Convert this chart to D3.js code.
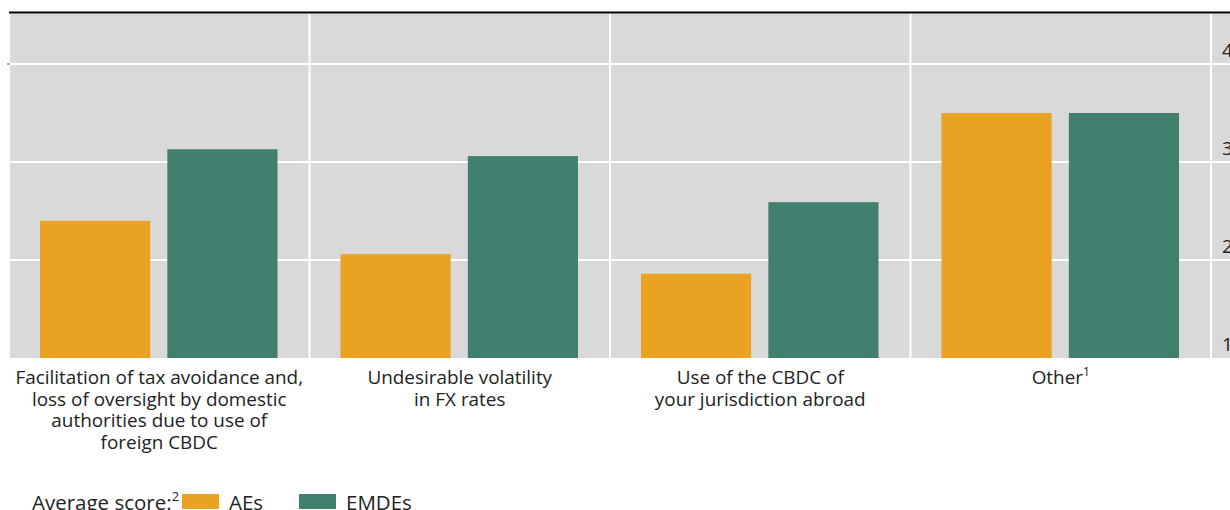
<!DOCTYPE html>
<html>
<head>
<meta charset="utf-8">
<script src="https://cdn.jsdelivr.net/npm/d3@7"></script>
<style>
  body { margin: 0; background: #fff; }
  svg { display: block; font-family: "Open Sans", "Noto Sans", sans-serif; }
</style>
</head>
<body>
<div id="chartDiv"></div>
<script>
// categories, each as lines of its label
var categories = ["tax", "fx", "abroad", "other"];
var categoryLines = [
	["Facilitation of tax avoidance and,", "loss of oversight by domestic", "authorities due to use of", "foreign CBDC"],
	["Undesirable volatility", "in FX rates"],
	["Use of the CBDC of", "your jurisdiction abroad"],
	["Other"]
];
var categoryNotes = ["", "", "", "1"];
var series = ["AEs", "EMDEs"];
var aesValues = [2.40, 2.06, 1.86, 3.50];
var emdesValues = [3.13, 3.06, 2.59, 3.50];
var yTicks = [1, 2, 3, 4];
var colors = { AEs: "#E9A222", EMDEs: "#417F6E" };

var width = 1230, height = 510;
var plot = { left: 10, right: 1232, top: 14, bottom: 358 };

var svg = d3.select("#chartDiv").append("svg")
	.attr("width", width).attr("height", height);

var x0 = d3.scaleBand().domain(categories)
	.range([plot.left - 1, plot.left - 1 + 300.5 * 4]);
var x1 = d3.scaleBand().domain(series)
	.range([31, 300.5 - 32]).paddingInner(0.135);
var y = d3.scaleLinear().domain([1, 4.5]).range([plot.bottom, plot.bottom - 3.5 * 98]);

// background
svg.append("rect")
	.attr("x", plot.left).attr("y", plot.top)
	.attr("width", plot.right - plot.left).attr("height", plot.bottom - plot.top)
	.attr("fill", "#D9D9D9");

// gridlines
svg.selectAll(".grid").data(yTicks.filter(function(d) { return d > 1; }))
	.enter().append("line").attr("class", "grid")
	.attr("x1", plot.left).attr("x2", plot.right)
	.attr("y1", function(d) { return y(d); }).attr("y2", function(d) { return y(d); })
	.attr("stroke", "#fff").attr("stroke-width", 2);

// vertical separators
svg.selectAll(".sep").data(categories)
	.enter().append("line").attr("class", "sep")
	.attr("x1", function(d) { return x0(d) + x0.bandwidth(); })
	.attr("x2", function(d) { return x0(d) + x0.bandwidth(); })
	.attr("y1", plot.top).attr("y2", plot.bottom)
	.attr("stroke", "#fff").attr("stroke-width", 2);

// bars
var rows = categories.map(function(c, i) {
	return { cat: c, vals: [{ s: "AEs", v: aesValues[i] }, { s: "EMDEs", v: emdesValues[i] }] };
});
var groups = svg.selectAll(".grp").data(rows).enter().append("g")
	.attr("transform", function(d) { return "translate(" + x0(d.cat) + ",0)"; });
groups.selectAll("rect").data(function(d) { return d.vals; })
	.enter().append("rect")
	.attr("x", function(d) { return x1(d.s); })
	.attr("width", x1.bandwidth())
	.attr("y", function(d) { return y(d.v); })
	.attr("height", function(d) { return y(1) - y(d.v); })
	.attr("fill", function(d) { return colors[d.s]; });

// top rule
svg.append("line")
	.attr("x1", 9).attr("x2", width).attr("y1", 12.5).attr("y2", 12.5)
	.attr("stroke", "#000").attr("stroke-width", 2);
svg.append("line")
	.attr("x1", 7).attr("x2", 10).attr("y1", y(4)).attr("y2", y(4))
	.attr("stroke", "#555").attr("stroke-width", 1);

// y tick labels (right side, cut by the frame)
svg.selectAll(".ytick").data(yTicks).enter().append("text")
	.attr("x", 1222).attr("y", function(d) { return y(d) - 7; })
	.attr("font-size", 19).attr("fill", "#222")
	.text(function(d) { return d; });

// category labels
var labels = svg.selectAll(".lab").data(categories).enter().append("text")
	.attr("text-anchor", "middle")
	.attr("font-size", 18.9).attr("fill", "#222");
labels.each(function(c, i) {
	var t = d3.select(this);
	var cx = x0(c) + x0.bandwidth() / 2;
	categoryLines[i].forEach(function(line, j) {
		t.append("tspan").attr("x", cx).attr("y", 384 + j * 21.5).text(line);
	});
	if (categoryNotes[i]) {
		t.append("tspan").attr("dy", -8).attr("font-size", 12).text(categoryNotes[i]);
	}
});

// legend
var legend = svg.append("g");
var lt = legend.append("text").attr("x", 32).attr("y", 510)
	.attr("font-size", 20.5).attr("fill", "#222");
lt.append("tspan").text("Average score:");
lt.append("tspan").attr("dy", -9).attr("font-size", 13).text("2");
var legendX = [182, 299];
series.forEach(function(s, i) {
	legend.append("rect").attr("x", legendX[i]).attr("y", 494)
		.attr("width", 37).attr("height", 15).attr("fill", colors[s]);
	legend.append("text").attr("x", legendX[i] + 47).attr("y", 510)
		.attr("font-size", 20.5).attr("fill", "#222").text(s);
});
</script>
</body>
</html>
